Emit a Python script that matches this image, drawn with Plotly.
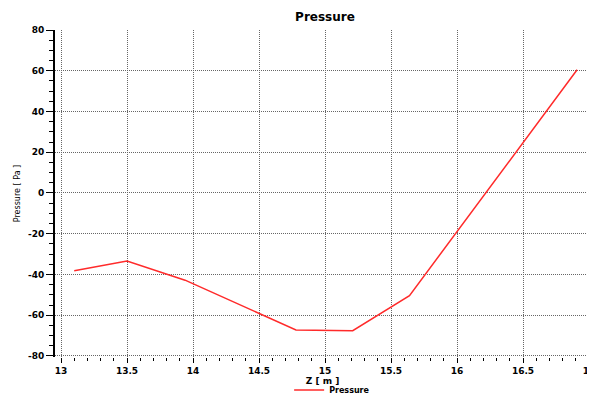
import plotly.graph_objects as go

z_m = [13.10, 13.50, 13.94, 14.78, 15.21, 15.64, 16.91]
pressure_pa = [-38.2, -33.4, -42.8, -67.2, -67.6, -50.4, 60.5]

x_ticks = [13, 13.5, 14, 14.5, 15, 15.5, 16, 16.5, 17]
x_labels = ["13", "13.5", "14", "14.5", "15", "15.5", "16", "16.5", "17"]
y_ticks = [80, 60, 40, 20, 0, -20, -40, -60, -80]
y_labels = ["80", "60", "40", "20", "0", "-20", "-40", "-60", "-80"]

FONT = "DejaVu Sans"

fig = go.Figure()
fig.add_trace(go.Scatter(
    x=z_m, y=pressure_pa, mode="lines", name="Pressure",
    line=dict(color="#ff2a2a", width=1.5),
))

fig.update_layout(
    width=587, height=389,
    margin=dict(l=47, r=5, t=22, b=40, autoexpand=False),
    paper_bgcolor="white", plot_bgcolor="white",
    font=dict(family=FONT, size=9, color="black"),
    title=dict(text="Pressure", x=0.540, xanchor="center", y=0.977, yanchor="middle",
               font=dict(family=FONT, size=12, color="black", weight="bold")),
    showlegend=True,
    legend=dict(orientation="h", x=0.518, xanchor="center", y=-0.101, yanchor="middle",
                font=dict(family=FONT, size=8, color="black", weight="bold"),
                bgcolor="rgba(0,0,0,0)", itemwidth=30),
)

fig.update_xaxes(
    range=[12.9545, 17.0076], automargin=False,
    tickvals=x_ticks, ticktext=x_labels, ticklabeloverflow="allow",
    showgrid=True, gridcolor="#666666", griddash="1px,1px", gridwidth=1,
    zeroline=False, showline=False,
    ticks="outside", ticklen=5, tickcolor="black", tickwidth=1,
    tickfont=dict(family=FONT, size=9, color="black", weight="bold"),
    minor=dict(ticks="outside", dtick=0.1, ticklen=3, tickcolor="black", showgrid=False),
    title=dict(text="Z [ m ]", standoff=2,
               font=dict(family=FONT, size=9, color="black", weight="bold")),
)

fig.update_yaxes(
    range=[-80.5, 80], automargin=False,
    tickvals=y_ticks, ticktext=y_labels,
    showgrid=True, gridcolor="#666666", griddash="1px,1px", gridwidth=1,
    zeroline=False, showline=True, linecolor="black", linewidth=2,
    ticks="outside", ticklen=7, tickcolor="black", tickwidth=1,
    tickfont=dict(family=FONT, size=9, color="black", weight="bold"),
    minor=dict(ticks="outside", dtick=5, ticklen=4, tickcolor="black", showgrid=False),
    title=dict(text="Pressure [ Pa ]", standoff=6,
               font=dict(family=FONT, size=8, color="black")),
)

fig.write_html("out.html")
